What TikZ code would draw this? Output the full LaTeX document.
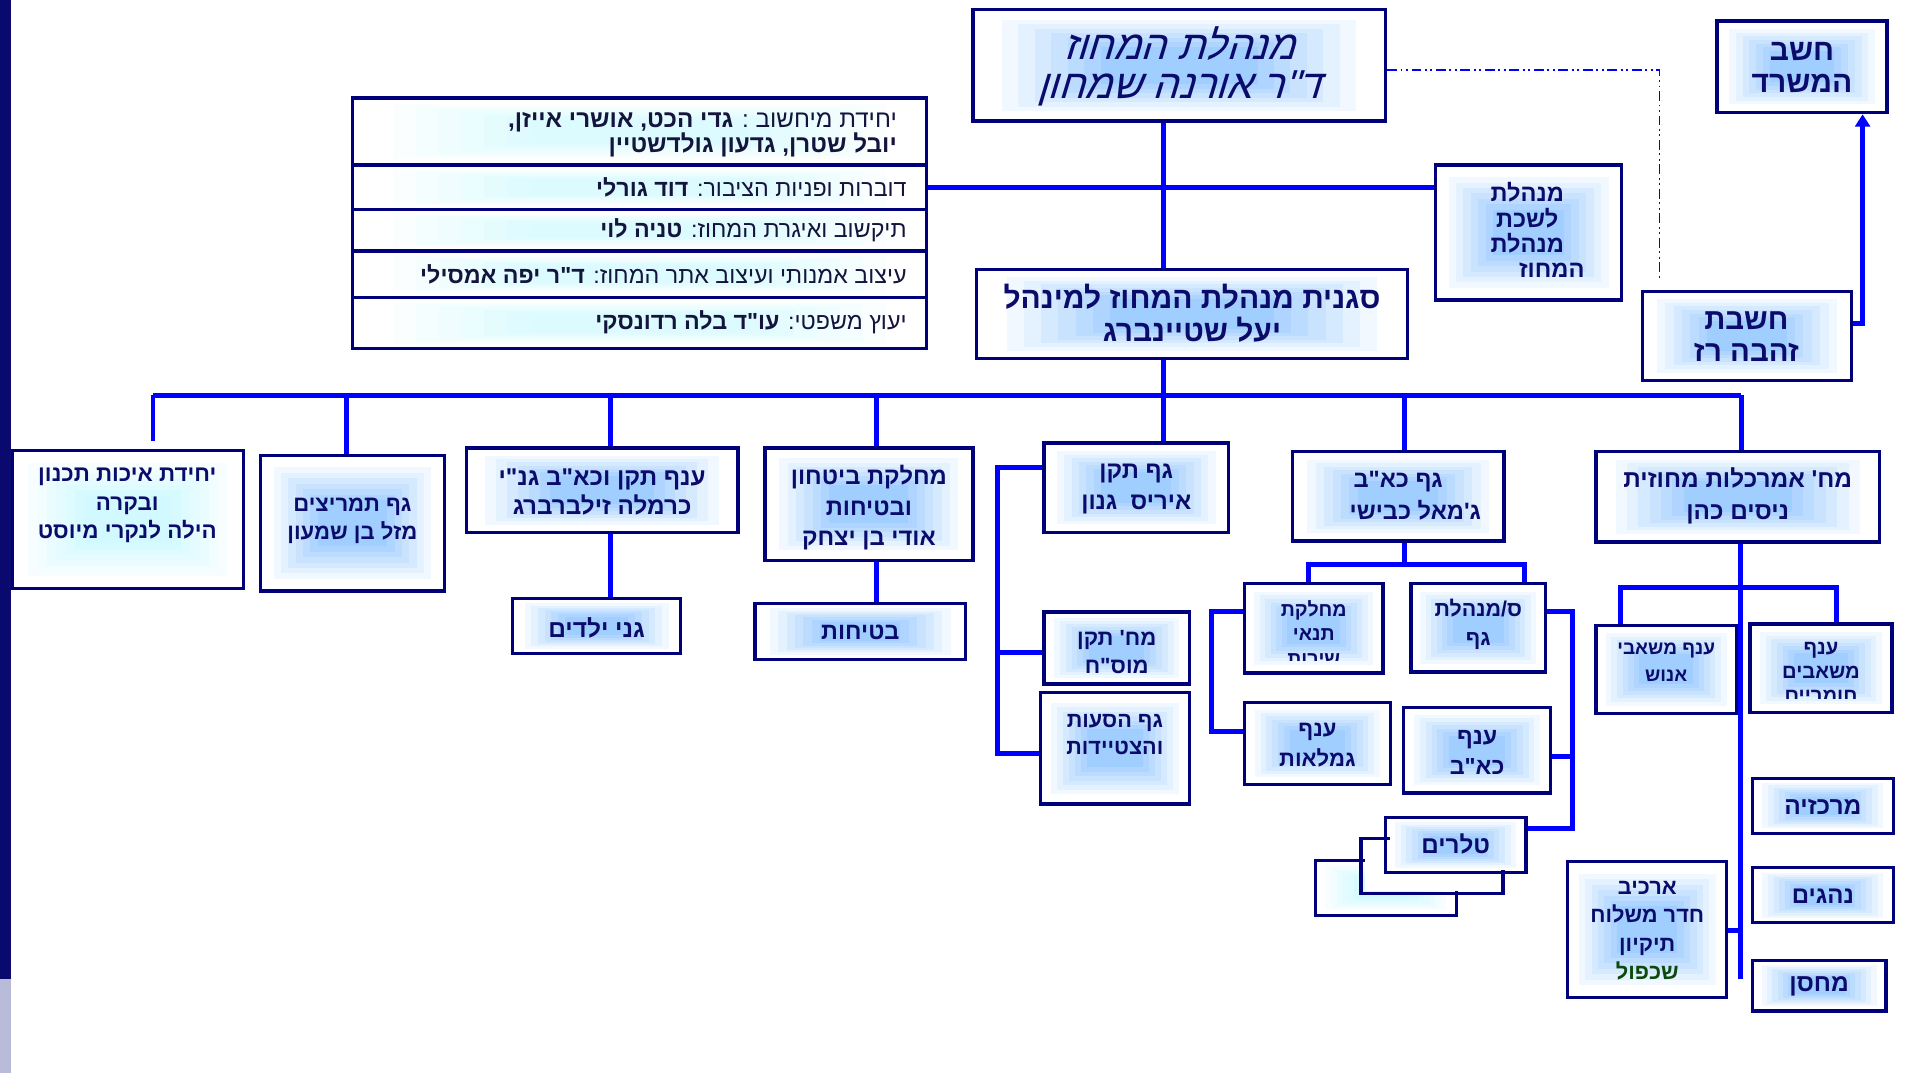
\documentclass[tikz,border=0pt]{standalone}
\usepackage{fontspec}
\usetikzlibrary{arrows.meta,calc}
\TeXXeTstate=1
\newfontfamily\heb[Script=Hebrew]{Liberation Sans}
\newfontfamily\hebsl[Script=Hebrew,FakeSlant=0.3]{Liberation Sans}
\newcommand\hR[1]{\beginR #1\endR}
\definecolor{navyf}{HTML}{00007A}
\definecolor{navyt}{HTML}{0B0B6B}
\definecolor{connblue}{HTML}{0000FF}
\definecolor{gblue}{HTML}{8EC4FF}
\definecolor{gcyan}{HTML}{C8F8FF}
\definecolor{gcyanl}{HTML}{D4FAFF}
\definecolor{tabtext}{HTML}{14143C}
\definecolor{shgreen}{HTML}{0B4A0B}
\definecolor{stripe}{HTML}{0A0A6E}
\definecolor{stripel}{HTML}{B8BCD8}
\tikzset{
  boxframe/.style={draw=navyf, line width=2.8pt, inner sep=0pt},
  wire/.style={draw=connblue, line width=4pt},
  dashdot/.style={draw=connblue, line width=1.5pt, dash pattern=on 8pt off 3pt on 1.5pt off 3pt on 1.5pt off 3pt},
  bt/.style 2 args={font={\heb\bfseries\fontsize{#1}{#2}\selectfont}, text=navyt, align=center, inner sep=0pt},
  st/.style={font={\hebsl\fontsize{33}{32}\selectfont}, text=navyt, align=center, inner sep=0pt},
  tt/.style={font={\heb\fontsize{19}{21}\selectfont}, text=tabtext, align=right, anchor=east, inner sep=0pt},
}
\newcommand\glowbox[6]{%
  \foreach \i in {0,...,7}{%
    \pgfmathsetmacro\fx{(#4-#2)*(0.03+0.04*\i)}%
    \pgfmathsetmacro\fy{(#5-#3)*(0.05+0.04*\i)}%
    \pgfmathtruncatemacro\pc{\i*12}%
    \fill[#6!\pc!white] ({#2+\fx},{#3+\fy}) rectangle ({#4-\fx},{#5-\fy});
  }%
  \node[boxframe, minimum width={(#4-#2)*1pt}, minimum height={(#5-#3)*1pt}] (#1) at ({(#2+#4)/2},{(#3+#5)/2}) {};%
}
\begin{document}
\begin{tikzpicture}[x=1pt,y=-1pt]
\useasboundingbox (0,0) rectangle (1564,877);
\fill[white] (0,0) rectangle (1564,877);
% left stripe
\fill[stripe] (0,0) rectangle (9,800);
\fill[stripel] (0,800) rectangle (9,877);

% top box
\glowbox{top}{795}{8}{1132}{99}{gblue}
\node[st] (topt) at (963.5,54) {\hR{מנהלת המחוז}\\\hR{ד"ר אורנה שמחון}};
% chashav hamisrad
\glowbox{hashav}{1403}{17}{1542}{92}{gblue}
\node[bt={24.5}{26}] (hashavt) at (1472.5,55) {\hR{חשב}\\\hR{המשרד}};

% table
\glowbox{r1}{288}{80}{757}{135}{gcyanl}
\glowbox{r2}{288}{135}{757}{171}{gcyanl}
\glowbox{r3}{288}{171}{757}{205}{gcyanl}
\glowbox{r4}{288}{205}{757}{243}{gcyanl}
\glowbox{r5}{288}{243}{757}{285}{gcyanl}
\node[tt,font={\heb\fontsize{19.8}{21}\selectfont}] (r1t) at (733,110) {\hR{יחידת מיחשוב : \textbf{גדי הכט, אושרי אייזן,}}\\\hR{\textbf{יובל שטרן, גדעון גולדשטיין}}};
\node[tt] (r2t) at (741,153) {\hR{דוברות ופניות הציבור: \textbf{דוד גורלי}}};
\node[tt] (r3t) at (741,188) {\hR{תיקשוב ואיגרת המחוז: \textbf{טניה לוי}}};
\node[tt] (r4t) at (741,224) {\hR{עיצוב אמנותי ועיצוב אתר המחוז: \textbf{ד"ר יפה אמסילי}}};
\node[tt] (r5t) at (741,263) {\hR{יעוץ משפטי: \textbf{עו"ד בלה רדונסקי}}};

% lishka
\glowbox{lishka}{1173}{135}{1325}{245}{gblue}
\node[bt={19.3}{20.7}] (lishkat) at (1248,188) {\hR{מנהלת}\\\hR{לשכת}\\\hR{מנהלת}\\\hspace*{40pt}\hR{המחוז}};
% deputy
\glowbox{dep}{798}{220}{1150}{293}{gblue}
\node[bt={24.5}{27}] (dept) at (974,256) {\hR{סגנית מנהלת המחוז למינהל}\\\hR{יעל שטיינברג}};
% chashevet
\glowbox{hashbat}{1342}{238}{1513}{311}{gblue}
\node[bt={24}{26}] (hashbatt) at (1427,275) {\hR{חשבת}\\\hR{זהבה רז}};

% row 2
\glowbox{A}{10}{368}{199}{481}{gcyan}
\node[bt={18.3}{23}] (At) at (104,413) {\hR{יחידת איכות תכנון}\\\hR{ובקרה}\\\hR{הילה לנקרי מיוסט}};
\glowbox{B}{213}{372}{363}{483}{gblue}
\node[bt={18}{23}] (Bt) at (288,425.5) {\hR{גף תמריצים}\\\hR{מזל בן שמעון}};
\glowbox{C}{381}{366}{603}{435}{gblue}
\node[bt={19.8}{24}] (Ct) at (492,402) {\hR{ענף תקן וכא"ב גנ"י}\\\hR{כרמלה זילברברג}};
\glowbox{gani}{419}{489}{556}{534}{gblue}
\node[bt={20}{23}] (ganit) at (487.5,513) {\hR{גני ילדים}};
\glowbox{D}{625}{366}{795}{458}{gblue}
\node[bt={19.4}{25}] (Dt) at (710,415) {\hR{מחלקת ביטחון}\\\hR{ובטיחות}\\\hR{אודי בן יצחק}};
\glowbox{bet}{617}{493}{789}{539}{gblue}
\node[bt={19.2}{23}] (bett) at (703,517) {\hR{בטיחות}};
\glowbox{E}{853}{362}{1004}{435}{gblue}
\node[bt={19.5}{25}] (Et) at (928.5,399.5) {\hR{גף תקן}\\\hR{איריס~~גנון}};
\glowbox{mosah}{853}{500}{972}{559}{gblue}
\node[bt={18}{23}] (mosaht) at (912.5,532.5) {\hR{מח' תקן}\\\hR{מוס"ח}};
\glowbox{hasaot}{850}{566}{972}{657}{gblue}
\node[bt={17.7}{22}] (hasaott) at (911,600) {\hR{גף הסעות}\\\hR{והצטיידות}};
\glowbox{F}{1056}{369}{1229}{442}{gblue}
\node[bt={19.3}{26}] (Ft) at (1142.5,405) {\hR{גף כא"ב}\\\hspace*{28pt}\hR{ג'מאל כבישי}};
\glowbox{tnai}{1017}{477}{1130}{550}{gblue}
\begin{scope}
  \clip (1020,480) rectangle (1127,540);
  \node[bt={16}{20}] (tnait) at (1073.5,517) {\hR{מחלקת}\\\hR{תנאי}\\\hR{שירות}};
\end{scope}
\glowbox{sgan}{1153}{477}{1263}{549}{gblue}
\node[bt={17.5}{24}] (sgant) at (1208,510) {\hR{ס/מנהלת}\\\hR{גף}};
\glowbox{gim}{1017}{574}{1136}{641}{gblue}
\node[bt={18}{24}] (gimt) at (1076.5,609) {\hR{ענף}\\\hR{גמלאות}};
\glowbox{kab}{1147}{578}{1267}{648}{gblue}
\node[bt={19}{24}] (kabt) at (1207,615) {\hR{ענף}\\\hR{כא"ב}};
\glowbox{tel3}{1075}{703}{1190}{748}{gcyan}
\glowbox{tel2}{1112}{685}{1228}{730}{white}
\glowbox{tel1}{1132}{668}{1247}{713}{gblue}
\node[bt={19.8}{23}] (tel1t) at (1189.5,690) {\hR{טלרים}};
\glowbox{G}{1304}{369}{1536}{443}{gblue}
\node[bt={19.9}{26}] (Gt) at (1420,405) {\hR{מח' אמרכלות מחוזית}\\\hR{ניסים כהן}};
\glowbox{enosh}{1304}{511}{1419}{583}{gblue}
\node[bt={15.5}{22}] (enosht) at (1361.5,541) {\hR{ענף משאבי}\\\hR{אנוש}};
\glowbox{homri}{1430}{510}{1546}{582}{gblue}
\begin{scope}
  \clip (1433,513) rectangle (1543,571);
  \node[bt={16.5}{19.5}] (homrit) at (1488,549.5) {\hR{ענף}\\\hR{משאבים}\\\hR{חומריים}};
\end{scope}
\glowbox{merk}{1432}{636}{1547}{681}{gblue}
\node[bt={20}{23}] (merkt) at (1489.5,659) {\hR{מרכזיה}};
\glowbox{neh}{1432}{709}{1547}{754}{gblue}
\node[bt={19.6}{23}] (neht) at (1489.5,732) {\hR{נהגים}};
\glowbox{mah}{1432}{785}{1541}{826}{gblue}
\node[bt={20}{23}] (maht) at (1486.5,806) {\hR{מחסן}};
\glowbox{arch}{1281}{704}{1411}{815}{gblue}
\node[bt={17.8}{23}] (archt) at (1346,760.5) {\hR{ארכיב}\\\hR{חדר משלוח}\\\hR{תיקיון}\\\textcolor{shgreen}{\hR{שכפול}}};

% connectors
\coordinate (trunk) at (951,0);
\draw[wire] (trunk |- top.south) -- (trunk |- dep.north);
\draw[wire] (trunk |- dep.south) -- (trunk |- E.north);
\draw[wire] (r2.east) -- (lishka.west |- r2.east);
\coordinate (busL) at (125,323);
\coordinate (busR) at (1423,323);
\draw[wire] (busL) -- (busR);
\draw[wire,shorten >=6pt] (busL) -- (busL |- A.north);
\coordinate (dB) at (283,323);
\draw[wire] (dB) -- (dB |- B.north);
\coordinate (dC) at (499,323);
\draw[wire] (dC) -- (dC |- C.north);
\draw[wire] (dC |- C.south) -- (dC |- gani.north);
\coordinate (dD) at (716,323);
\draw[wire] (dD) -- (dD |- D.north);
\draw[wire] (dD |- D.south) -- (dD |- bet.north);
\coordinate (dF) at (1148,323);
\draw[wire] (dF) -- (dF |- F.north);
\draw[wire] (busR) -- (busR |- G.north);
% left bracket of E
\coordinate (lb1) at (815,382);
\coordinate (lb2) at (815,533);
\coordinate (lb3) at (815,616);
\draw[wire] (E.west |- lb1) -- (lb1) -- (lb3) -- (hasaot.west |- lb3);
\draw[wire] (lb2) -- (mosah.west |- lb2);
% below F
\coordinate (fb) at (1148,461);
\coordinate (fbL) at (1069,461);
\coordinate (fbR) at (1246,461);
\draw[wire] (fb |- F.south) -- (fb);
\draw[wire] (fbL |- tnai.north) -- (fbL) -- (fbR) -- (fbR |- sgan.north);
\coordinate (lc1) at (990,500);
\coordinate (lc2) at (990,598);
\draw[wire] (tnai.west |- lc1) -- (lc1) -- (lc2) -- (gim.west |- lc2);
\coordinate (rc1) at (1285,500);
\coordinate (rc2) at (1285,618);
\coordinate (rc3) at (1285,677);
\draw[wire] (sgan.east |- rc1) -- (rc1) -- (rc3) -- (tel1.east |- rc3);
\draw[wire] (rc2) -- (kab.east |- rc2);
% below G
\coordinate (gb) at (1422,480);
\coordinate (gbL) at (1324,480);
\coordinate (gbR) at (1501,480);
\coordinate (gend) at (1422,800);
\coordinate (archj) at (1422,760);
\draw[wire] (gb |- G.south) -- (gend);
\draw[wire] (gbL |- enosh.north) -- (gbL) -- (gbR) -- (gbR |- homri.north);
\draw[wire] (arch.east |- archj) -- (archj);
% arrow to hashav
\coordinate (ar1) at (1522,264);
\draw[wire,-{Triangle[length=10pt,width=12pt]}] (hashbat.east |- ar1) -- (ar1) -- (ar1 |- hashav.south);
% dash-dot
\coordinate (dd1) at (1356,57);
\coordinate (dd2) at (1356,229);
\draw[dashdot] (top.east |- dd1) -- (dd1) -- (dd2);
\end{tikzpicture}
\end{document}
